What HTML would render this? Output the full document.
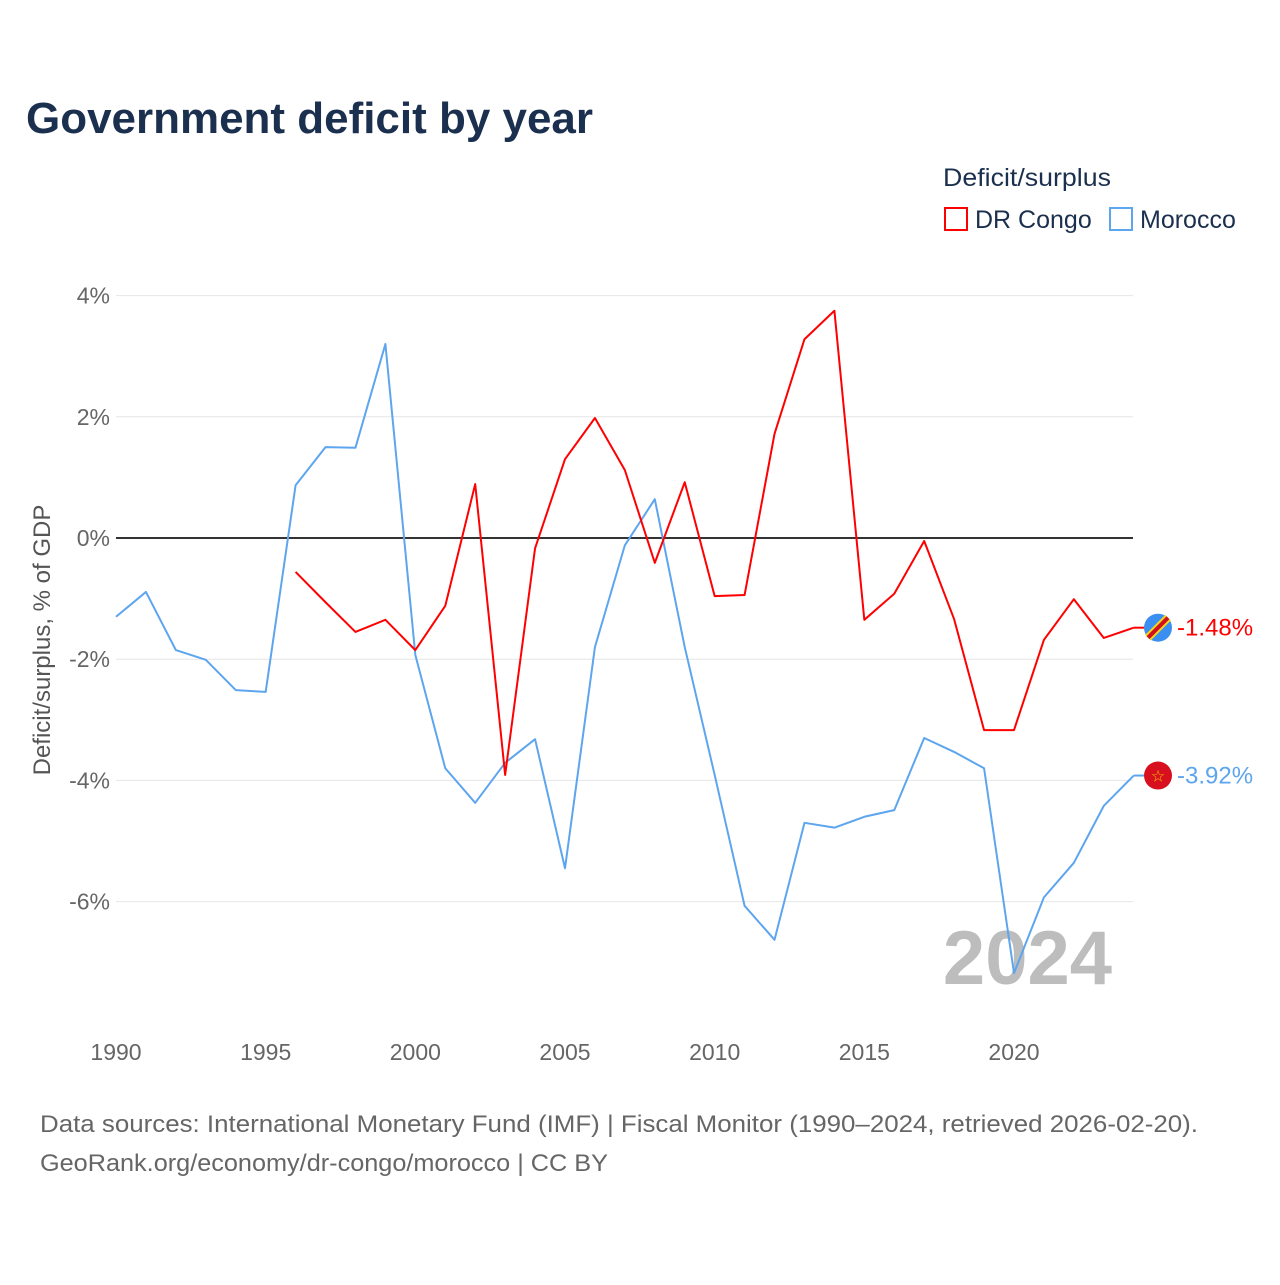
<!DOCTYPE html>
<html><head><meta charset="utf-8">
<style>
body{margin:0;background:#fff;font-family:"Liberation Sans",sans-serif;}
svg text{font-family:"Liberation Sans",sans-serif;}
</style></head>
<body>
<svg id="chart" width="1280" height="1280" viewBox="0 0 1280 1280" xmlns="http://www.w3.org/2000/svg">
<rect width="1280" height="1280" fill="#fff"/>
<text x="26" y="133" font-size="44" font-weight="bold" fill="#1b2f4e" textLength="567" lengthAdjust="spacingAndGlyphs">Government deficit by year</text>
<text x="943" y="186" font-size="25" fill="#1b2f4e" textLength="168" lengthAdjust="spacingAndGlyphs">Deficit/surplus</text>
<g>
<rect x="945" y="208" width="22" height="22" fill="none" stroke="#ff0000" stroke-width="2"/>
<text x="975" y="228" font-size="25" fill="#1b2f4e">DR Congo</text></g>
<g>
<rect x="1110" y="208" width="22" height="22" fill="none" stroke="#5da5ef" stroke-width="2"/>
<text x="1140" y="228" font-size="25" fill="#1b2f4e">Morocco</text></g>
<g id="grid"></g>
<text transform="translate(50,640) rotate(-90)" text-anchor="middle" font-size="24" fill="#555">Deficit/surplus, % of GDP</text>
<text x="1112" y="984" text-anchor="end" font-size="76" font-weight="bold" fill="#bdbdbd">2024</text>
<g id="series"></g>
<text x="40" y="1132" font-size="24" fill="#666" textLength="1158" lengthAdjust="spacingAndGlyphs">Data sources: International Monetary Fund (IMF) | Fiscal Monitor (1990–2024, retrieved 2026-02-20).</text>
<text x="40" y="1171" font-size="24" fill="#666" textLength="568" lengthAdjust="spacingAndGlyphs">GeoRank.org/economy/dr-congo/morocco | CC BY</text>
</svg>
<script>
const yTicks=[4,2,0,-2,-4,-6];
const xTicks=[1990,1995,2000,2005,2010,2015,2020];
const moroccoYears=[1990,1991,1992,1993,1994,1995,1996,1997,1998,1999,2000,2001,2002,2003,2004,2005,2006,2007,2008,2009,2010,2011,2012,2013,2014,2015,2016,2017,2018,2019,2020,2021,2022,2023,2024];
const moroccoValues=[-1.30,-0.89,-1.85,-2.01,-2.51,-2.54,0.87,1.50,1.49,3.20,-1.93,-3.80,-4.37,-3.71,-3.32,-5.45,-1.80,-0.12,0.64,-1.80,-3.91,-6.07,-6.63,-4.70,-4.78,-4.60,-4.49,-3.30,-3.53,-3.80,-7.18,-5.93,-5.36,-4.42,-3.92];
const congoYears=[1996,1997,1998,1999,2000,2001,2002,2003,2004,2005,2006,2007,2008,2009,2010,2011,2012,2013,2014,2015,2016,2017,2018,2019,2020,2021,2022,2023,2024];
const congoValues=[-0.56,-1.06,-1.55,-1.35,-1.85,-1.12,0.89,-3.91,-0.17,1.30,1.98,1.12,-0.41,0.92,-0.96,-0.94,1.72,3.28,3.75,-1.35,-0.92,-0.05,-1.34,-3.17,-3.17,-1.68,-1.01,-1.65,-1.48];
const NS="http://www.w3.org/2000/svg";
const xS=y=>116+(y-1990)*(1014-116)/30;
const yS=v=>538-v*60.6;
const grid=document.getElementById('grid');
function mk(tag,attrs,parent){const e=document.createElementNS(NS,tag);for(const k in attrs)e.setAttribute(k,attrs[k]);parent.appendChild(e);return e;}
yTicks.forEach(t=>{
  const l=mk('line',{x1:116,x2:1133,y1:yS(t),y2:yS(t),stroke:t===0?'#333':'#e6e6e6','stroke-width':t===0?2:1},grid);
  
  
  const tx=mk('text',{x:110,y:yS(t)+8,'text-anchor':'end','font-size':23,fill:'#666'},grid);
  tx.textContent=t+'%';
  
  
});
xTicks.forEach(t=>{
  const tx=mk('text',{x:xS(t),y:1060,'text-anchor':'middle','font-size':23,fill:'#666'},grid);
  tx.textContent=t;
  
  
});
const ser=document.getElementById('series');
function line(years,vals,color,name){
  const p=mk('polyline',{points:years.map((y,i)=>xS(y)+','+yS(vals[i])).join(' '),fill:'none',stroke:color,'stroke-width':2,'stroke-linejoin':'round'},ser);
  
  
}
line(moroccoYears,moroccoValues,'#5da5ef','morocco-line');
line(congoYears,congoValues,'#ff0000','dr-congo-line');
function endLabel(years,vals,color,name,flag){
  const v=vals[vals.length-1],y=yS(v),x=xS(years[years.length-1]);
  mk('line',{x1:x,x2:1146,y1:y,y2:y,stroke:color,'stroke-width':2},ser);
  const g=mk('g',{},ser);
  
  
  if(flag==='cd'){
    mk('circle',{cx:1158,cy:y,r:14,fill:'#3b8ff0'},g);
    mk('line',{x1:1148,y1:y+10,x2:1168,y2:y-10,stroke:'#f7d618','stroke-width':8},g);
    mk('line',{x1:1148,y1:y+10,x2:1168,y2:y-10,stroke:'#ce1021','stroke-width':4},g);
  }else{
    mk('circle',{cx:1158,cy:y,r:14,fill:'#d80f1f'},g);
    const s=mk('text',{x:1158,y:y+6,'text-anchor':'middle','font-size':16,fill:'#f2c200'},g);s.textContent='☆';
  }
  const t=mk('text',{x:1177,y:y+8,'font-size':24,fill:color},ser);
  t.textContent=v.toFixed(2)+'%';
  
  
}
endLabel(congoYears,congoValues,'#ff0000','dr-congo','cd');
endLabel(moroccoYears,moroccoValues,'#5da5ef','morocco','ma');
</script>
</body></html>
